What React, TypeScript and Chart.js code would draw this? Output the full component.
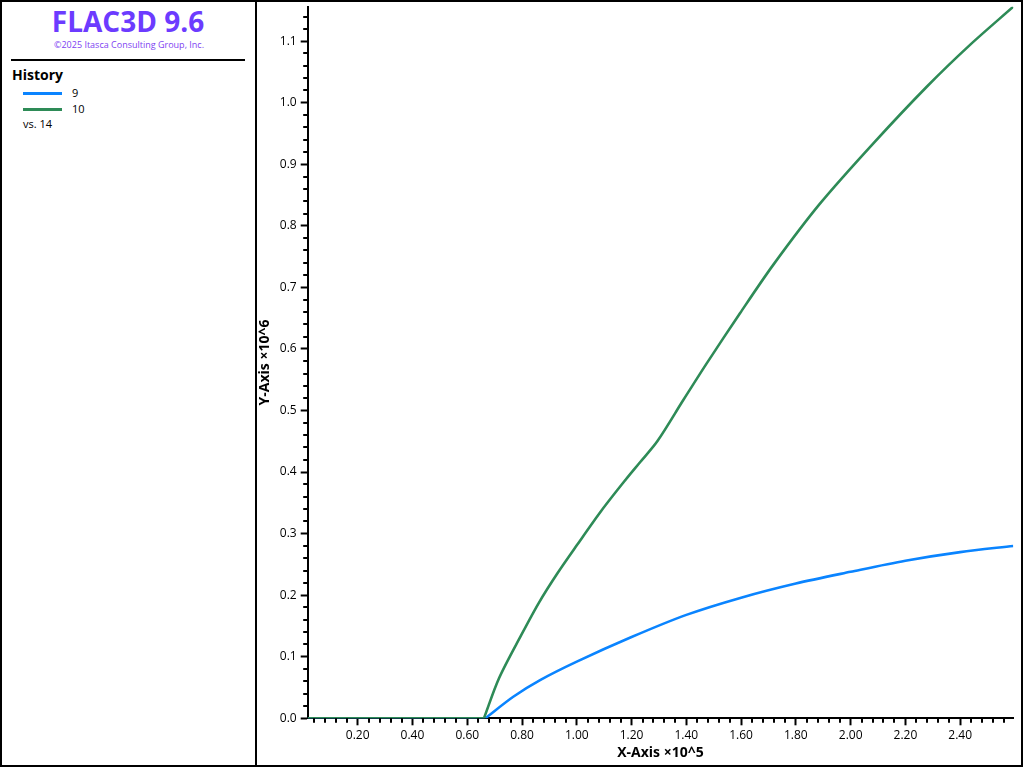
import React, { useEffect, useRef } from "react";
import { Chart, registerables } from "chart.js";

Chart.register(...registerables);

// ---- Data (x in units of 1e5, y in units of 1e6) ----
const seriesNames = ["9", "10"];

const history9X = [0.0174, 0.666, 0.768, 0.866, 1.0, 1.2, 1.4, 1.6, 1.8, 2.0, 2.2, 2.4, 2.594];
const history9Y = [0, 0, 0.035, 0.062, 0.092, 0.132, 0.168, 0.196, 0.219, 0.238, 0.256, 0.27, 0.28];

const history10X = [0.0174, 0.661, 0.716, 0.797, 0.862, 0.93, 1.0, 1.091, 1.179, 1.231, 1.294, 1.389, 1.475, 1.596, 1.718, 1.888, 2.083, 2.278, 2.436, 2.594];
const history10Y = [0, 0, 0.065, 0.135, 0.188, 0.236, 0.281, 0.338, 0.388, 0.416, 0.45, 0.517, 0.577, 0.658, 0.737, 0.836, 0.934, 1.026, 1.094, 1.156];

const xTickValues = [0.2, 0.4, 0.6, 0.8, 1.0, 1.2, 1.4, 1.6, 1.8, 2.0, 2.2, 2.4];
const yTickValues = [0, 0.1, 0.2, 0.3, 0.4, 0.5, 0.6, 0.7, 0.8, 0.9, 1.0, 1.1];

const xMin = 0.0174;
const xMax = 2.594;
const yMin = 0;
const yMax = 1.156;
const xMinorStep = 0.04;
const yMinorStep = 0.02;

const colors = ["#0a84ff", "#2e8b57"];

const FONT = '"Open Sans", "Noto Sans", sans-serif';

function toPoints(xs: number[], ys: number[]) {
  return xs.map((x, i) => ({ x, y: ys[i] }));
}

// Split a history into its flat (zero) lead-in and its rising part so that the
// corner where it leaves zero stays sharp while the rest is smoothed.
function splitAtRise(xs: number[], ys: number[]) {
  const pts = toPoints(xs, ys);
  let k = 0;
  while (k + 1 < ys.length && ys[k + 1] === 0) k++;
  return { flat: pts.slice(0, k + 1), rise: pts.slice(k) };
}

const minorTicksPlugin = {
  id: "minorTicks",
  afterDraw(chart: any) {
    const ctx = chart.ctx;
    const xs = chart.scales.x;
    const ys = chart.scales.y;
    const area = chart.chartArea;
    ctx.save();
    ctx.strokeStyle = "#000";
    ctx.lineWidth = 2;
    ctx.beginPath();
    for (let k = 1; k * xMinorStep <= xMax; k++) {
      const v = k * xMinorStep;
      if (k % 5 === 0 || v < xMin) continue;
      const px = Math.round(xs.getPixelForValue(v));
      ctx.moveTo(px, area.bottom);
      ctx.lineTo(px, area.bottom + 4.5);
    }
    for (let k = 1; k * yMinorStep <= yMax; k++) {
      if (k % 5 === 0) continue;
      const py = Math.round(ys.getPixelForValue(k * yMinorStep));
      ctx.moveTo(area.left, py);
      ctx.lineTo(area.left - 4.5, py);
    }
    ctx.stroke();
    ctx.restore();
  },
};

export default function App() {
  const ref = useRef<HTMLCanvasElement>(null);

  useEffect(() => {
    const h9 = splitAtRise(history9X, history9Y);
    const h10 = splitAtRise(history10X, history10Y);
    const ds = (label: string, data: any[], color: string, tension: number) => ({
      label,
      data,
      borderColor: color,
      backgroundColor: color,
      borderWidth: 2.6,
      pointRadius: 0,
      tension,
      fill: false,
    });
    const chart = new Chart(ref.current as HTMLCanvasElement, {
      type: "line",
      data: {
        datasets: [
          ds(seriesNames[1], h10.flat, colors[1], 0),
          ds(seriesNames[1], h10.rise, colors[1], 0.3),
          ds(seriesNames[0], h9.flat, colors[0], 0),
          ds(seriesNames[0], h9.rise, colors[0], 0.3),
        ],
      },
      options: {
        animation: false,
        responsive: false,
        devicePixelRatio: 1,
        layout: { padding: { top: 4.7, right: 6.7, left: 0, bottom: 0 } },
        plugins: { legend: { display: false }, tooltip: { enabled: false } },
        scales: {
          x: {
            type: "linear",
            min: xMin,
            max: xMax,
            afterBuildTicks: (scale: any) => {
              scale.ticks = xTickValues.map((v) => ({ value: v }));
            },
            afterFit: (scale: any) => {
              scale.height = 45.7;
              scale.paddingLeft = 0;
              scale.paddingRight = 0;
            },
            ticks: {
              autoSkip: false,
              maxRotation: 0,
              minRotation: 0,
              padding: 3,
              color: "#000",
              font: { family: FONT, size: 12 },
              callback: (v: any) => Number(v).toFixed(2),
            },
            grid: {
              display: true,
              drawOnChartArea: false,
              drawTicks: true,
              tickLength: 7,
              tickColor: "#000",
              tickWidth: 2,
            },
            border: { display: true, color: "#000", width: 2 },
            title: {
              display: true,
              text: "X-Axis ×10^5",
              color: "#000",
              font: { family: FONT, size: 14, weight: "bold", lineHeight: 1 },
              padding: { top: 0, bottom: 4 },
            },
          },
          y: {
            type: "linear",
            min: yMin,
            max: yMax,
            afterBuildTicks: (scale: any) => {
              scale.ticks = yTickValues.map((v) => ({ value: v }));
            },
            afterFit: (scale: any) => {
              scale.width = 49.7;
              scale.paddingTop = 0;
              scale.paddingBottom = 0;
            },
            ticks: {
              autoSkip: false,
              padding: 4,
              color: "#000",
              font: { family: FONT, size: 12 },
              callback: (v: any) => Number(v).toFixed(1),
            },
            grid: {
              display: true,
              drawOnChartArea: false,
              drawTicks: true,
              tickLength: 7,
              tickColor: "#000",
              tickWidth: 2,
            },
            border: { display: true, color: "#000", width: 2 },
            title: {
              display: true,
              text: "Y-Axis ×10^6",
              color: "#000",
              font: { family: FONT, size: 14, weight: "bold", lineHeight: 1 },
              padding: { top: 0, bottom: 0 },
            },
          },
        },
      },
      plugins: [minorTicksPlugin],
    } as any);
    return () => chart.destroy();
  }, []);

  const abs = (s: React.CSSProperties): React.CSSProperties => ({ position: "absolute", ...s });

  return (
    <div
      style={{
        position: "fixed",
        left: 0,
        top: 0,
        width: 1024,
        height: 768,
        background: "#fff",
        fontFamily: FONT,
        overflow: "hidden",
      }}
    >
      {/* outer frame */}
      <div style={abs({ left: 0, top: 0, width: 1023, height: 767, border: "2px solid #000", boxSizing: "border-box" })} />
      {/* divider */}
      <div style={abs({ left: 255, top: 0, width: 2, height: 767, background: "#000" })} />

      {/* left panel */}
      <div
        style={abs({
          left: 0,
          width: 256,
          top: 6.8,
          textAlign: "center",
          fontSize: 28,
          lineHeight: "28px",
          fontWeight: 700,
          color: "#6c3bff",
          whiteSpace: "nowrap",
        })}
      >
        FLAC3D 9.6
      </div>
      <div
        style={abs({
          left: 0,
          width: 258,
          top: 40,
          textAlign: "center",
          fontSize: 9,
          lineHeight: "9px",
          color: "#7e3ff2",
          whiteSpace: "nowrap",
        })}
      >
        ©2025 Itasca Consulting Group, Inc.
      </div>
      <div style={abs({ left: 11, top: 59, width: 234, height: 2, background: "#000" })} />
      <div style={abs({ left: 12, top: 68.3, fontSize: 14, lineHeight: "14px", fontWeight: 700, color: "#000" })}>History</div>
      <div style={abs({ left: 23, top: 92, width: 39, height: 3, background: colors[0] })} />
      <div style={abs({ left: 72, top: 87, fontSize: 11, lineHeight: "11px", color: "#000" })}>{seriesNames[0]}</div>
      <div style={abs({ left: 23, top: 108, width: 39, height: 3, background: colors[1] })} />
      <div style={abs({ left: 72, top: 103, fontSize: 11, lineHeight: "11px", color: "#000" })}>{seriesNames[1]}</div>
      <div style={abs({ left: 23, top: 118.2, fontSize: 11, lineHeight: "11px", color: "#000" })}>vs. 14</div>

      {/* chart */}
      <canvas ref={ref} width={762} height={762} style={abs({ left: 258, top: 2, width: 762, height: 762 })} />
    </div>
  );
}
